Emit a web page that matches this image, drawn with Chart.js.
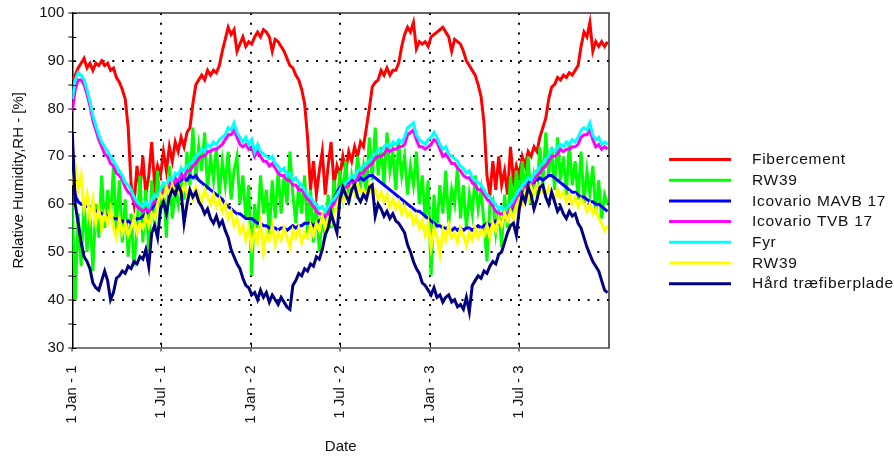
<!DOCTYPE html>
<html>
<head>
<meta charset="utf-8">
<script src="https://cdn.jsdelivr.net/npm/chart.js@4/dist/chart.umd.min.js"></script>
<style>
  html, body { margin: 0; padding: 0; background: #ffffff; }
  #wrap { width: 894px; height: 461px; }
</style>
</head>
<body>
<div id="wrap"><canvas id="rh" width="894" height="461"></canvas></div>
<script>
// Relative humidity readings, one every STEP_DAYS days from 1 Jan year 1.
const STEP_DAYS = 6;

const tickDays = [0, 181, 365, 546, 730, 911];
const tickLabels = ["1 Jan - 1", "1 Jul - 1", "1 Jan - 2", "1 Jul - 2", "1 Jan - 3", "1 Jul - 3"];

const seriesNames = ["Fibercement", "RW39", "Icovario MAVB 17", "Icovario TVB 17", "Fyr", "RW39", "Hård træfiberplade"];
const seriesColors = ["#ff0000", "#00ff00", "#0000ff", "#ff00ff", "#00ffff", "#ffff00", "#000080"];

const fibercement = [86,87,88.5,89.5,90.5,88.5,89.5,88,89.5,89,
 90,89,89.5,88,88.5,86.5,85.5,84,82,76,
 64,60,68,63,70,62,66,73,64,68,
 66,71,67,72,69,73,71,74,72,75,
 76,81,85,86,87,86,88,87,88,87.5,
 89,92,94.5,97,95.5,96.5,92,93.5,95,93,
 94,93.5,95,96,95,96.5,96,95,92,94.5,
 94,93,92,90.5,89,88.5,87,86,84,81,
 74,63,69,62,67,71,62,68,73,64,
 68,66,70,67,71,69,72,70,73,72,
 76,80,84.5,85.5,86,88,87,88.5,87,88,
 88,89.5,93,95.5,97,96,98,92.5,94,93.5,
 94,93,95,95.5,96,96.5,97,96,95,92,
 94.5,94,93.5,92,90,89,88,87,85,82.5,
 77,66,62,69,63,70,64,67,62,72,
 65,68,66,70,68,71,70,72,71,74,
 76,78,82,84.5,85,86.5,86,87,86.5,87.5,
 87,88,89,93,96,95,98,92,94,93,
 94,93,94];

const rw39Green = [60,40,58,47,61,50,58,46,60,53,
 66,55,63,57,68,54,65,52,61,49,
 58,47,55,66,52,63,50,65,55,67,
 58,64,53,68,57,63,60,66,61,71,
 64,76,65,72,67,75,63,70,65,72,
 62,69,64,71,61,67,70,60,66,57,
 64,45,60,55,66,58,63,54,65,57,
 67,58,66,60,71,62,56,64,58,66,
 54,63,52,60,50,58,53,62,55,65,
 59,67,62,69,60,66,63,70,64,68,
 62,74,65,76,66,72,64,75,67,71,
 63,73,66,70,62,68,64,71,60,66,
 57,65,45,62,55,64,58,67,56,63,
 60,68,57,64,55,62,58,66,59,63,
 56,48,60,61,54,59,51,62,55,66,
 58,67,61,69,62,70,60,66,63,72,
 64,75,66,72,63,74,65,70,62,73,
 64,69,61,71,60,67,62,68,58,65,
 57,62,60];

const icovarioMavb = [67,62,60.5,60,60,59.5,59.5,59,58.5,58.5,
 58,58,57.5,57.5,57,57,56.5,56.5,56,56.5,
 56,56.5,57,57,57.5,58,58.5,59,60,61,
 62,62.5,63,63.5,63,64,64.5,65,65.5,65,
 66,65.5,66,65,64.5,64,63.5,63,62.5,62,
 61.5,61,60,59.5,59,58.5,58,58,57.5,57,
 57,57,56.5,56,56,55.5,55.5,55,55,55,
 54.5,55,55,54.5,55,55.5,55,55.5,55.5,56,
 56,56,55.5,56,56.5,57,57.5,58,59.5,61,
 62.5,63.5,64,64.5,64.5,65,64.5,65,65.5,65,
 65.5,66,66,65.5,65,64.5,64,63.5,63,62.5,
 62,61.5,61,60.5,60,59.5,59,58.5,58.5,58,
 57.5,57,56.5,56,55.5,55.5,55,55,54.5,54.5,
 55,54.5,55,54.5,55,55,54.5,55,55.5,55,
 55.5,56,55.5,56,56.5,56,56.5,57,57.5,58.5,
 60,61.5,63,64,64.5,64.5,65,64.5,65,65.5,
 65,65.5,66,66,65.5,65,64.5,64,63.5,63,
 62.5,62.5,62,61.5,61.5,61,60.5,60.5,60,60,
 59.5,59,58.5];

const icovarioTvb = [79.5,84,86,86,85,83,80.5,77.5,75.5,73.5,
 72,70.5,70,68.5,68,66.5,66,65,63.5,62.5,
 62,60.5,59.5,59,58.5,59,58.5,60,60.5,60.5,
 62,63,63,64.5,63.5,65.5,64.5,66.5,65.5,67,
 67,68,68.5,69.5,70,70,71,71,71.5,71.5,
 72,72.5,73.5,74.5,74.5,75.5,74,72.5,72,72.5,
 71.5,72,70,71,70,69,69,68,68.5,67.5,
 66.5,66,66,65,65,64,64,63,63,62,
 61,60.5,59.5,58.5,58,58,57.5,58,59.5,60,
 61,62,62.5,63.5,64,64.5,64.5,65.5,66.5,66.5,
 67.5,68,68.5,69.5,70,70,70.5,71.5,71,71.5,
 71.5,72,72,72.5,74.5,75,75.5,73.5,72,72,
 71.5,72,72.5,73.5,73,71.5,70,70.5,69.5,68.5,
 68.5,67.5,67,66,65.5,65.5,64.5,64,63,63,
 62,61,60.5,59.5,58.5,58,58,57.5,58,59,
 60,61,62,62.5,63.5,64,64,65,66,66.5,
 67.5,68,69,70,70,70.5,71.5,71,71.5,71.5,
 72,72,72.5,74,74.5,74.5,75.5,73.5,72,72.5,
 71.5,72,71.5];

const fyr = [82,86,87.5,87,86,84,81.5,78.5,76.5,74.5,
 73,72,71,70,69,68,67,66,64.5,64,
 63,61.5,60.5,60,59.5,60.5,59.5,61,62,61.5,
 63,64.5,64,65.5,65,66.5,66,67.5,67,68,
 68.5,69,70,70.5,71.5,71,72.5,72,73,72.5,
 73.5,74,74.5,76,75.5,77,75,74,73,74,
 72.5,73.5,71,72.5,71,70.5,70,69.5,70,68.5,
 68,67,67.5,66,66.5,65,65.5,64.5,64,63,
 62,61.5,60.5,60,59,59.5,58.5,59.5,60.5,61,
 62,63,64,64.5,65,66,65.5,67,67.5,68,
 68.5,69,70,70.5,71.5,71,72,72.5,72,73,
 72.5,73.5,73,74,76,76.5,77,74.5,73.5,73,
 72.5,73.5,74,75,74,72.5,71.5,72,70.5,70,
 69.5,69,68,67.5,66.5,67,65.5,65,64.5,64,
 63,62,61.5,60.5,60,59,59.5,58.5,59.5,60,
 61,62,63,64,64.5,65.5,65,66.5,67,68,
 68.5,69.5,70,71.5,71,72,72.5,72,73,72.5,
 73.5,73,74,75.5,76,75.5,77,74.5,73.5,74,
 72.5,73,72.5];

const rw39Yellow = [64,68,63,66,59,62,57,61,56,59,
 55,58,56,59,55,53,57,54,56,53.5,
 55,57,54,56,55,57.5,55.5,58,57,60,
 62,61,63.5,62,64,62.5,63,61.5,64,62,
 63,61,63.5,62,60.5,63,61.5,60,62,59.5,
 61,58.5,60,57,58.5,55.5,57,54,55.5,52.5,
 55,51,54.5,52,56,50,54,52.5,55.5,51.5,
 54,52.5,55,53,51,54.5,53,55,52,54,
 53,55.5,53.5,56,54.5,57.5,55,57,56,58,
 60,61.5,60.5,62.5,61,63.5,62,64,62.5,63,
 61.5,64,62,63,61,62.5,60.5,62,59.5,61,
 59,60.5,58,59.5,57.5,58.5,56,57.5,55,56.5,
 53.5,56,51,55,53,49.5,54.5,52.5,55.5,53,
 54,52,55,53.5,51.5,54,52.5,55,53,54.5,
 53.5,55.5,53,56,54.5,57,55.5,58,56.5,58.5,
 57,59.5,61,60,62.5,61,63.5,62,64,62.5,
 63,61.5,63.5,62,61,63,61.5,62.5,60.5,62,
 60,61.5,59.5,61,60,58.5,60,58,59,57,
 56,54.5,55.5];

const hardFiber = [75,60,56,52,49,48,46.5,43.5,42.5,42,
 44,46,44,40,41.5,44.5,45,46,45.5,47,
 46.5,48,47.5,49,48.5,50.5,47,54,55.5,53,
 59,60.5,58,61.5,63,62,64,62.5,56,60,
 63,61.5,62.5,60.5,59.5,58,59,57,56,57.5,
 55.5,56.5,54.5,53,50.5,49,47.5,46.5,44.5,43,
 42.5,41,41.5,40,42,40.5,41.5,39.5,41,40,
 39,40.5,39.5,38.5,38,43,44,45.5,45,46.5,
 46,47.5,47,49,48.5,50.5,53.5,55,58,56,
 54,61,63.5,62,60.5,63,64,61.5,60.5,62,
 61,63.5,64,57.5,60,59,57.5,58.5,57,58,
 56.5,56,55,54,51.5,50,48,46.5,45.5,43.5,
 43,42,41,42.5,40.5,41,39.5,40.5,41,39.5,
 40,38.5,39,38,40.5,37.5,43,44,45,44.5,
 46,45.5,47,48,47.5,49.5,50,52,54,55.5,
 56,53.5,59,62,60.5,63.5,62,59,61,63.5,
 64,61.5,60,62.5,60.5,58.5,59.5,58,57,58.5,
 57.5,58,56,55,53,51,49.5,48,47,46,
 44,42,41.5];

const seriesValues = [fibercement, rw39Green, icovarioMavb, icovarioTvb, fyr, rw39Yellow, hardFiber];

const FONT = "'Liberation Sans', Arial, sans-serif";

function toPoints(values) {
  return values.map((v, i) => ({ x: i * STEP_DAYS, y: v }));
}

// Later series are painted on top of earlier ones.
const datasets = seriesValues.map((vals, k) => ({
  label: seriesNames[k],
  data: toPoints(vals),
  borderColor: seriesColors[k],
  backgroundColor: seriesColors[k],
  borderWidth: 3,
  pointRadius: 0,
  tension: 0,
  fill: false,
  order: seriesValues.length - 1 - k
}));

// Frame on top/right of the plot, inner half of the tick marks, and the legend block.
const framePlugin = {
  id: 'frameAndLegend',
  afterDraw(chart) {
    const { ctx, chartArea: a, scales } = chart;
    ctx.save();
    ctx.strokeStyle = '#303030';
    ctx.lineWidth = 1.5;
    ctx.beginPath();
    ctx.moveTo(a.left, a.top);
    ctx.lineTo(a.right, a.top);
    ctx.lineTo(a.right, a.bottom);
    ctx.stroke();

    ctx.strokeStyle = '#000000';
    ctx.lineWidth = 1;
    ctx.beginPath();
    scales.y.ticks.forEach(t => {
      const y = Math.round(scales.y.getPixelForValue(t.value)) + 0.5;
      ctx.moveTo(a.left, y);
      ctx.lineTo(a.left + 4, y);
    });
    tickDays.forEach(d => {
      const x = Math.round(scales.x.getPixelForValue(d)) + 0.5;
      ctx.moveTo(x, a.bottom);
      ctx.lineTo(x, a.bottom - 4);
    });
    ctx.stroke();

    const lx0 = 669, lx1 = 731, tx = 752, y0 = 159.5, dy = 20.7;
    ctx.font = '15.5px ' + FONT;
    ctx.letterSpacing = '0.7px';
    ctx.textBaseline = 'middle';
    ctx.textAlign = 'left';
    seriesNames.forEach((name, k) => {
      const y = y0 + k * dy;
      ctx.strokeStyle = seriesColors[k];
      ctx.lineWidth = 3;
      ctx.beginPath();
      ctx.moveTo(lx0, y);
      ctx.lineTo(lx1, y);
      ctx.stroke();
      ctx.fillStyle = '#111111';
      ctx.fillText(name, tx, y + 0.5);
    });
    ctx.restore();
  }
};

new Chart(document.getElementById('rh'), {
  type: 'line',
  data: { datasets },
  plugins: [framePlugin],
  options: {
    responsive: false,
    animation: false,
    events: [],
    layout: { padding: { left: 0, right: 285, top: 10, bottom: 0 } },
    plugins: { legend: { display: false }, tooltip: { enabled: false } },
    scales: {
      x: {
        type: 'linear',
        min: 0,
        max: 1095,
        afterBuildTicks(scale) { scale.ticks = tickDays.map(v => ({ value: v })); },
        afterFit(scale) { scale.height = 113.5; },
        ticks: {
          autoSkip: false,
          maxRotation: 90,
          minRotation: 90,
          padding: 14,
          color: '#111111',
          font: { family: FONT, size: 15 },
          callback(value) { const i = tickDays.indexOf(value); return i >= 0 ? tickLabels[i] : ''; }
        },
        grid: {
          color: (c) => (c.index === 0 ? 'rgba(0,0,0,0)' : '#000000'),
          lineWidth: 2,
          tickColor: '#000000',
          tickLength: 4,
          tickWidth: 1
        },
        border: { display: true, color: '#7a7a7a', width: 2, dash: [2, 7.7] },
        title: {
          display: true,
          text: 'Date',
          color: '#111111',
          font: { family: FONT, size: 15 },
          padding: { top: 4, bottom: 5 }
        }
      },
      y: {
        min: 30,
        max: 100,
        afterFit(scale) { scale.width = 72.3; },
        ticks: {
          stepSize: 5,
          padding: 4,
          color: '#111111',
          font: { family: FONT, size: 15 },
          callback(value) { return value % 10 === 0 ? String(value) : ''; }
        },
        grid: {
          color: (c) => {
            const v = c.tick ? c.tick.value : 0;
            return (v % 10 === 0 && v > 30 && v < 100) ? '#000000' : 'rgba(0,0,0,0)';
          },
          lineWidth: 2,
          tickColor: '#000000',
          tickLength: 4,
          tickWidth: 1
        },
        border: { display: true, color: '#000000', width: 1.5, dash: [2, 7.7] },
        title: {
          display: true,
          text: 'Relative Humidity,RH - [%]',
          color: '#111111',
          font: { family: FONT, size: 15 },
          padding: { top: 10, bottom: 4 }
        }
      }
    }
  }
});
</script>
</body>
</html>
